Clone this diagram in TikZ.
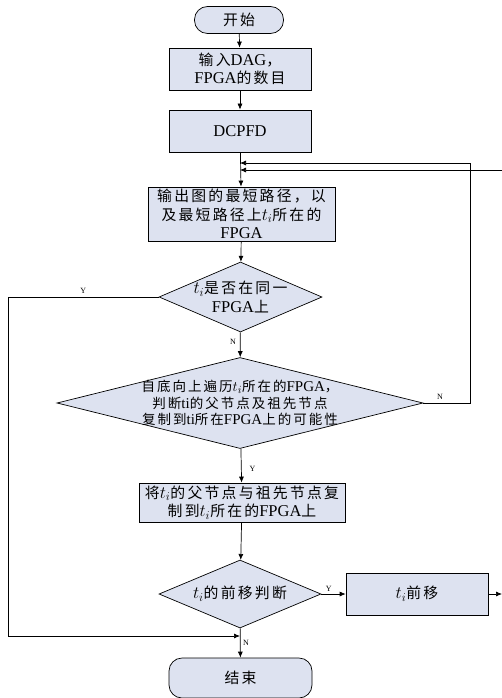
\documentclass[tikz,border=0pt]{standalone}
\usepackage{fontspec}
\setmainfont{Liberation Serif}
\newfontfamily\cjk[Scale=0.9,LetterSpace=15]{Noto Sans CJK SC}
\usetikzlibrary{shapes.geometric,arrows.meta}
\definecolor{boxfill}{RGB}{221,226,240}
\begin{document}
\begin{tikzpicture}[x=1pt,y=-1pt,
  every node/.style={inner sep=0pt},
  proc/.style={draw=black,fill=boxfill,line width=0.7pt,align=center,font=\fontsize{16.5}{18.5}\selectfont},
  term/.style={proc,rounded corners=13pt},
  dia/.style={draw=black,fill=boxfill,line width=0.7pt,diamond},
  diatext/.style={align=center,font=\fontsize{16.5}{18.5}\selectfont},
  arr/.style={line width=0.7pt,-{Latex[length=6pt,width=5pt]}},
  ln/.style={line width=0.7pt},
  lab/.style={font=\fontsize{8}{9}\selectfont}]
\useasboundingbox (0,0) rectangle (502,698);
\begin{scope}
\clip (0,0) rectangle (502,698);
% nodes
\node[term,minimum width=89pt,minimum height=27pt] (start) at (239,20) {{\cjk 开始}};
\node[proc,minimum width=142pt,minimum height=42pt] (b1) at (240,69) {{\cjk 输入}DAG{\cjk ，}\\FPGA{\cjk 的数目}};
\node[proc,minimum width=142pt,minimum height=42pt] (b2) at (240,131) {DCPFD};
\node[proc,minimum width=187pt,minimum height=54pt] (b3) at (241.5,214) {{\cjk 输出图的最短路径，以}\\{\cjk 及最短路径上}$t_i${\cjk 所在的}\\FPGA};
\node[dia,minimum width=163pt,minimum height=70pt] (d1) at (240.5,297) {};
\node[diatext] (d1t) at (d1) {$t_i${\cjk 是否在同一}\\FPGA{\cjk 上}};
\node[dia,minimum width=366pt,minimum height=91pt] (d2) at (240,403) {};
\node[diatext,font=\fontsize{15}{16.5}\selectfont] (d2t) at (d2) {{\cjk 自底向上遍历}$t_i${\cjk 所在的}FPGA{\cjk ，}\\{\cjk 判断}ti{\cjk 的父节点及祖先节点}\\{\cjk 复制到}ti{\cjk 所在}FPGA{\cjk 上的可能性}};
\node[proc,minimum width=206pt,minimum height=39pt] (b4) at (242,502.5) {{\cjk 将}$t_i${\cjk 的父节点与祖先节点复}\\{\cjk 制到}$t_i${\cjk 所在的}FPGA{\cjk 上}};
\node[dia,minimum width=162pt,minimum height=68pt] (d3) at (240,594) {};
\node[diatext] (d3t) at (d3) {$t_i${\cjk 的前移判断}};
\node[proc,minimum width=142pt,minimum height=42pt] (b5) at (417,594) {$t_i${\cjk 前移}};
\node[term,minimum width=143pt,minimum height=40pt] (end) at (240.5,678) {{\cjk 结束}};
% coordinates
\coordinate (j1) at (240,163);
\coordinate (j2) at (240,170);
\coordinate (c1) at (470,163);
\coordinate (e1) at (502,594);
\coordinate (e2) at (502,170);
\coordinate (c2) at (8,297);
\coordinate (c3) at (8,636);
\coordinate (j3) at (240,636);
% connectors
\draw[arr] (start) -- (b1);
\draw[arr] (b1) -- (b2);
\draw[arr] (b2) -- (b3);
\draw[arr] (b3) -- (d1);
\draw[arr] (d1) -- node[lab,left,xshift=-4pt,pos=0.4] (n1) {N} (d2);
\draw[arr] (d2) -- node[lab,right,xshift=8pt,pos=0.6] (y2) {Y} (b4);
\draw[arr] (b4) -- (d3);
\draw[arr] (d3) -- (end);
\node[lab] (n3) at (246,643) {N};
\draw[arr] (d3.east) -- node[lab,above,yshift=2pt,pos=0.3] (y3) {Y} (b5.west);
\draw[arr] (b5.east) -- (e1);
\draw[arr] (d2.east) -| (c1) -- (j1);
\node[lab] (n2) at (440,397) {N};
\draw[arr] (e2) -- (j2);
\draw[ln] (d1.west) -- node[lab,above,yshift=3pt,pos=0.5] (y1) {Y} (c2) -- (c3);
\draw[arr] (c3) -- (j3);
\end{scope}
\end{tikzpicture}
\end{document}
